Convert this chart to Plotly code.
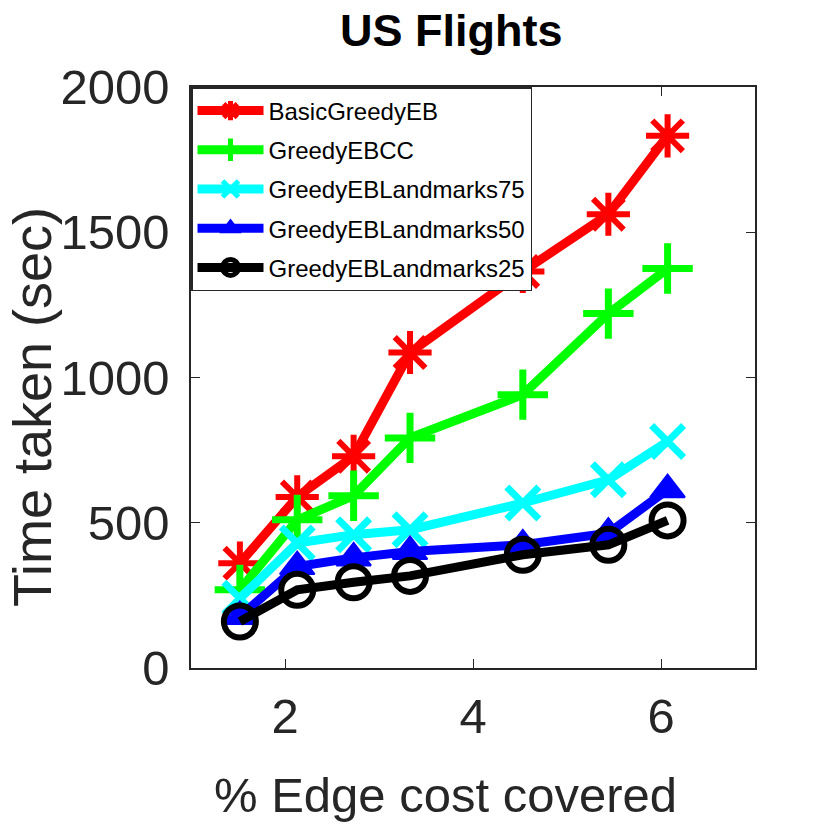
import plotly.graph_objects as go

x_vals = [1.52, 2.13, 2.73, 3.33, 4.53, 5.44, 6.07]
basic_greedy = [361, 589, 729, 1086, 1365, 1562, 1832]
greedy_cc = [269, 510, 593, 792, 941, 1220, 1375]
landmarks75 = [240, 430, 459, 476, 568, 648, 780]
landmarks50 = [177, 349, 379, 401, 424, 464, 614]
landmarks25 = [160, 269, 295, 317, 390, 424, 508]

series_names = ["BasicGreedyEB", "GreedyEBCC", "GreedyEBLandmarks75",
                "GreedyEBLandmarks50", "GreedyEBLandmarks25"]
series_vals = [basic_greedy, greedy_cc, landmarks75, landmarks50, landmarks25]
colors = ["#ff0000", "#00ff00", "#00ffff", "#0000ff", "#000000"]
symbols = ["asterisk-open", "cross-thin-open", "x-thin-open", "triangle-up", "circle-open"]
sizes = [36, 36, 32, 30, 32]
mline = [6, 7, 7, 2, 6]

x_ticks = [2, 4, 6]
y_ticks = [0, 500, 1000, 1500, 2000]

FONT = "Liberation Sans, Arial, Helvetica, sans-serif"
TXT = "#262626"

W = H = 830
L, R, T, B = 191, 75, 87, 162

fig = go.Figure()
for i, (name, vals, c, s, sz, mw) in enumerate(zip(series_names, series_vals, colors, symbols, sizes, mline)):
    fig.add_trace(go.Scatter(
        x=x_vals, y=vals, name=name, mode="lines+markers", legendgroup=f"g{i}",
        line=dict(color=c, width=9),
        marker=dict(symbol=s, size=sz, color=c, line=dict(color=c, width=mw)),
    ))

fig.update_layout(
    width=W, height=H,
    margin=dict(l=L, r=R, t=T, b=B),
    plot_bgcolor="white", paper_bgcolor="white",
    showlegend=True,
    legend=dict(
        x=0, y=1, xanchor="left", yanchor="top",
        bgcolor="white", bordercolor=TXT, borderwidth=1.5,
        font=dict(family=FONT, size=24, color="black"),
        itemwidth=66, tracegroupgap=5,
    ),
    xaxis=dict(
        range=[1, 7], tickvals=x_ticks, ticks="inside", ticklen=9,
        tickcolor=TXT, showline=True, linecolor=TXT, linewidth=1.5,
        mirror="ticks", showgrid=False, zeroline=False, automargin=False,
        tickfont=dict(family=FONT, size=49, color=TXT), ticklabelstandoff=4,
    ),
    yaxis=dict(
        range=[0, 2000], tickvals=y_ticks, ticks="inside", ticklen=9,
        tickcolor=TXT, showline=True, linecolor=TXT, linewidth=1.5,
        mirror="ticks", showgrid=False, zeroline=False, automargin=False,
        tickfont=dict(family=FONT, size=49, color=TXT), ticklabelstandoff=10,
    ),
)

# annotation positions given in pixels from the top-left of the page
labels = [
    ("<b>US Flights</b>", 451, 31, 0, 45, "black"),
    ("% Edge cost covered", 445, 795, 0, 49, TXT),
    ("Time taken (sec)", 32, 407, -90, 54, TXT),
]
pw, ph = W - L - R, H - T - B
for text, sx, sy, ang, fs, col in labels:
    fig.add_annotation(
        text=text, x=(sx - L) / pw, y=(H - sy - B) / ph, xref="paper", yref="paper",
        showarrow=False, textangle=ang, xanchor="center", yanchor="middle",
        font=dict(family=FONT, size=fs, color=col),
    )

fig.write_html("out.html", config={"displayModeBar": False},
               post_script="document.body.style.margin='0';")
